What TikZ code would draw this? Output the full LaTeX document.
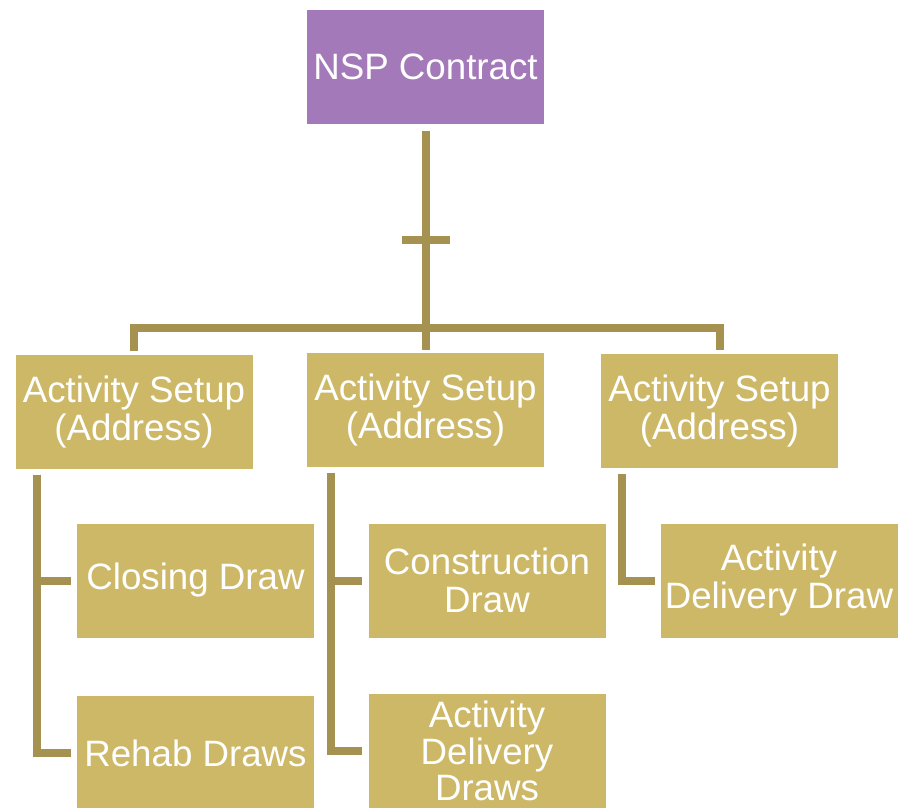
\documentclass[tikz,border=0pt]{standalone}
\usepackage{fontspec}
\setmainfont{Liberation Sans}
\definecolor{orchid}{RGB}{164,121,185}
\definecolor{sand}{RGB}{205,184,103}
\definecolor{linkgold}{RGB}{166,146,80}
\begin{document}
\begin{tikzpicture}[x=1pt,y=-1pt,
  box/.style={fill=sand, text=white, minimum width=237pt, minimum height=114pt,
    inner sep=0pt, align=center, font={\fontsize{36.7}{38}\selectfont}},
  link/.style={draw=linkgold, line width=8pt}]
%\draw[help lines,step=50] (0,0) grid (898,807);
\useasboundingbox (0,0) rectangle (898,807);

% top of the tree
\node [box, fill=orchid] (nsp) at (425.5,66.5) {NSP Contract};

% activity setups
\node [box] (setupA) at (134,411.5) {Activity Setup\\(Address)};
\node [box] (setupB) at (425.5,410) {Activity Setup\\(Address)};
\node [box] (setupC) at (719.5,410.5) {Activity Setup\\(Address)};

% draws
\node [box] (closing) at (195.5,580.5) {Closing Draw};
\node [box] (rehab) at (195.5,753) {Rehab Draws};
\node [box] (construction) at (487,580.5) {Construction\\Draw};
\node [box, font={\fontsize{36.7}{36.5}\selectfont}] (deliveryB) at (487,751) {Activity\\Delivery\\Draws};
\node [box] (deliveryC) at (779,580.5) {Activity\\Delivery Draw};

\coordinate (hub) at (425.5,328);
\coordinate (tick) at (425.5,240);

% trunk and bus
\draw [link, shorten <=7pt] (nsp.south) -- (hub);
\draw [link] ([xshift=-24pt]tick) -- ([xshift=24pt]tick);
\draw [link, shorten <=3pt, shorten >=3pt] (setupA.north) |- (hub) -| (setupC.north);
\draw [link, shorten <=3pt] (setupB.north) -- (hub);

% side branches
\draw [link, shorten <=6pt, shorten >=6pt] ([xshift=22pt]setupA.south west) |- (closing.west);
\draw [link, shorten <=6pt, shorten >=6pt] ([xshift=22pt]setupA.south west) |- (rehab.west);
\draw [link, shorten <=6pt, shorten >=6pt] ([xshift=24pt]setupB.south west) |- (construction.west);
\draw [link, shorten <=6pt, shorten >=6pt] ([xshift=24pt]setupB.south west) |- (deliveryB.west);
\draw [link, shorten <=6pt, shorten >=5pt] ([xshift=21pt]setupC.south west) |- (deliveryC.west);
\end{tikzpicture}
\end{document}
